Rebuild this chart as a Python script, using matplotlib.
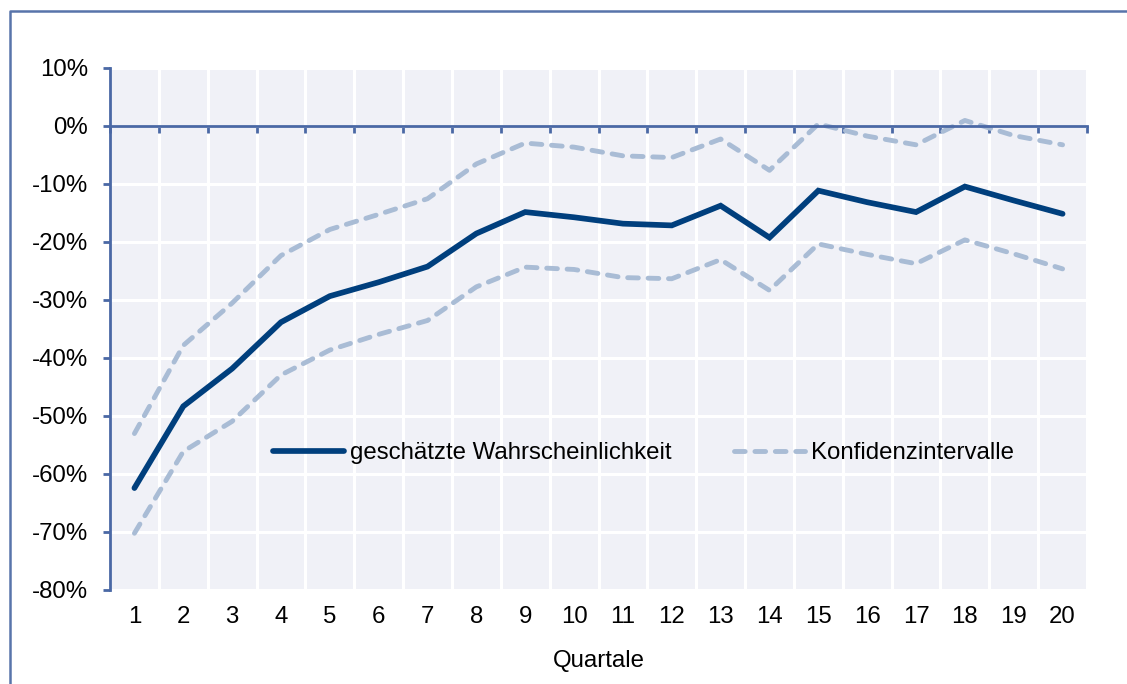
import matplotlib
matplotlib.use("Agg")
import matplotlib.pyplot as plt
from matplotlib.lines import Line2D
from matplotlib.ticker import FixedLocator, FuncFormatter

quarters = list(range(1, 21))
estimate = [-62.5, -48.4, -41.9, -33.9, -29.4, -27.0, -24.3, -18.6, -14.9, -15.8,
            -16.9, -17.2, -13.8, -19.3, -11.2, -13.2, -14.9, -10.5, -12.9, -15.2]
upper_ci = [-53.1, -37.9, -30.6, -22.4, -17.9, -15.3, -12.6, -6.6, -3.0, -3.7,
            -5.2, -5.5, -2.3, -7.7, 0.3, -1.8, -3.3, 0.9, -1.7, -3.3]
lower_ci = [-70.3, -56.2, -51.0, -43.0, -38.7, -36.0, -33.6, -27.8, -24.4, -24.8,
            -26.2, -26.4, -23.1, -28.4, -20.4, -22.2, -23.8, -19.7, -22.1, -24.7]
y_ticks = list(range(-80, 11, 10))
label_est = "geschätzte Wahrscheinlichkeit"
label_ci = "Konfidenzintervalle"
x_label = "Quartale"

plt.rcParams['font.family'] = ['Liberation Sans', 'DejaVu Sans']
FS = 17.3
AXC = '#4A68A5'
MAIN = '#003F7D'
CIC = '#A9BCD5'
DASH = (0, (2.2, 2.0))

fig = plt.figure(figsize=(11.27, 6.84), dpi=100)
ax = fig.add_axes([110/1127, 94.5/684, 977/1127, 521.8/684])
ax.set_facecolor('#F0F1F7')

ax.plot(quarters, estimate, color=MAIN, lw=4.1, solid_capstyle='round',
        solid_joinstyle='miter', label=label_est, zorder=4)
ax.plot(quarters, upper_ci, color=CIC, lw=3.5, linestyle=DASH,
        dash_capstyle='round', label=label_ci, zorder=3)
ax.plot(quarters, lower_ci, color=CIC, lw=3.5, linestyle=DASH,
        dash_capstyle='round', zorder=3)

ax.set_xlim(0.5, 20.5)
ax.set_ylim(-80, 10)

# y axis
ax.yaxis.set_major_locator(FixedLocator(y_ticks))
ax.yaxis.set_major_formatter(FuncFormatter(lambda v, p: f"{v:.0f}%"))
ax.tick_params(axis='y', direction='out', length=5, width=2, color=AXC,
               labelsize=FS, pad=11, labelcolor='black')

# x axis: labels at bottom, axis line at y=0
ax.xaxis.set_major_locator(FixedLocator(quarters))
ax.xaxis.set_minor_locator(FixedLocator([q - 0.5 for q in quarters] + [quarters[-1] + 0.5]))
ax.tick_params(axis='x', which='major', bottom=True, top=False, length=0,
               labelsize=FS, pad=12)
ax.tick_params(axis='x', which='minor', bottom=False, top=True, direction='in',
               length=5, width=2, color=AXC)
ax.spines['top'].set_position(('data', 0))
ax.spines['top'].set_color(AXC)
ax.spines['top'].set_linewidth(2)
ax.spines['left'].set_color(AXC)
ax.spines['left'].set_linewidth(2)
ax.spines['bottom'].set_visible(False)
ax.spines['right'].set_visible(False)
ax.spines['top'].set_zorder(5)

ax.grid(True, axis='y', which='major', color='white', lw=2.2)
ax.grid(True, axis='x', which='minor', color='white', lw=2.2)
ax.grid(False, axis='x', which='major')
ax.set_axisbelow(True)

ax.set_xlabel(x_label, fontsize=FS, labelpad=16)

ax.legend(loc='center left', bbox_to_anchor=(0.1668, 0.2616), ncol=2,
          frameon=False, fontsize=FS, borderpad=0, borderaxespad=0,
          handlelength=2.95, handletextpad=0.25, columnspacing=2.6)

# outer frame
fig.add_artist(Line2D([10/1127, 10/1127, 1.01], [-0.01, 1 - 11/684, 1 - 11/684],
                      transform=fig.transFigure, color='#5874AA', lw=1.8))

fig.savefig('out.png', dpi=100)
